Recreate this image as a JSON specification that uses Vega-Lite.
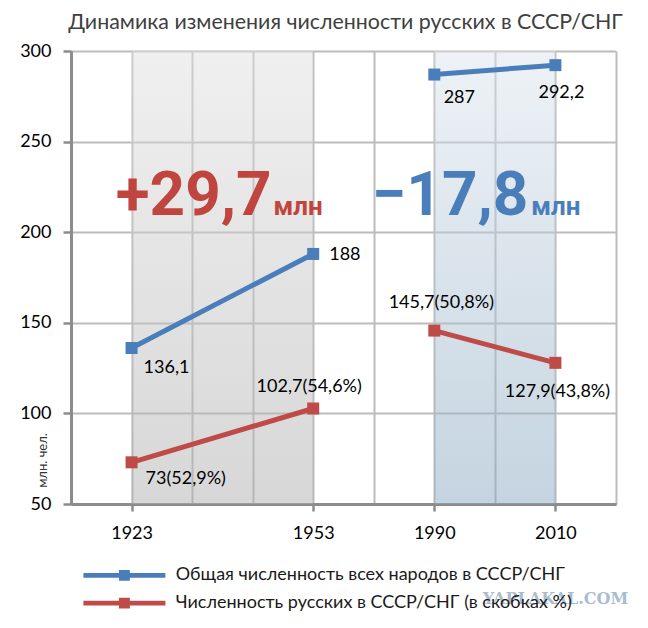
{
  "$schema": "https://vega.github.io/schema/vega-lite/v6.json",
  "width": 545,
  "height": 453,
  "autosize": {"type": "none"},
  "padding": {"left": 71, "top": 51, "right": 32, "bottom": 124},
  "background": "white",
  "title": {
    "text": "Динамика изменения численности русских в СССР/СНГ",
    "anchor": "middle",
    "baseline": "bottom",
    "dx": 2,
    "dy": 24,
    "offset": 12,
    "font": "Lato",
    "fontSize": 21.4,
    "fontWeight": "normal",
    "color": "#404040"
  },
  "datasets": {
    "series": [
      {"year": 1923, "value": 136.1, "label": "136,1", "period": "СССР", "series": "Общая численность всех народов в СССР/СНГ"},
      {"year": 1953, "value": 188, "label": "188", "period": "СССР", "series": "Общая численность всех народов в СССР/СНГ"},
      {"year": 1990, "value": 287, "label": "287", "period": "СНГ", "series": "Общая численность всех народов в СССР/СНГ"},
      {"year": 2010, "value": 292.2, "label": "292,2", "period": "СНГ", "series": "Общая численность всех народов в СССР/СНГ"},
      {"year": 1923, "value": 73, "label": "73(52,9%)", "period": "СССР", "series": "Численность русских в СССР/СНГ (в скобках %)"},
      {"year": 1953, "value": 102.7, "label": "102,7(54,6%)", "period": "СССР", "series": "Численность русских в СССР/СНГ (в скобках %)"},
      {"year": 1990, "value": 145.7, "label": "145,7(50,8%)", "period": "СНГ", "series": "Численность русских в СССР/СНГ (в скобках %)"},
      {"year": 2010, "value": 127.9, "label": "127,9(43,8%)", "period": "СНГ", "series": "Численность русских в СССР/СНГ (в скобках %)"}
    ],
    "periods": [
      {"start": 1923, "end": 1953, "period": "СССР", "change": "+29,7"},
      {"start": 1990, "end": 2010, "period": "СНГ", "change": "−17,8"}
    ]
  },
  "layer": [
    {
      "data": {"name": "periods"},
      "transform": [{"filter": "datum.period == 'СССР'"}],
      "mark": {
        "type": "rect",
        "opacity": 0.5,
        "fill": {
          "gradient": "linear", "x1": 0, "y1": 0, "x2": 0, "y2": 1,
          "stops": [{"offset": 0, "color": "#e0e0e0"}, {"offset": 1, "color": "#afafaf"}]
        }
      },
      "encoding": {
        "x": {"field": "start", "type": "quantitative"},
        "x2": {"field": "end"},
        "y": {"datum": 300, "type": "quantitative"},
        "y2": {"datum": 50}
      }
    },
    {
      "data": {"name": "periods"},
      "transform": [{"filter": "datum.period == 'СНГ'"}],
      "mark": {
        "type": "rect",
        "opacity": 0.5,
        "fill": {
          "gradient": "linear", "x1": 0, "y1": 0, "x2": 0, "y2": 1,
          "stops": [{"offset": 0, "color": "#dde5ed"}, {"offset": 1, "color": "#8aa9c1"}]
        }
      },
      "encoding": {
        "x": {"field": "start", "type": "quantitative"},
        "x2": {"field": "end"},
        "y": {"datum": 300, "type": "quantitative"},
        "y2": {"datum": 50}
      }
    },
    {
      "data": {"name": "series"},
      "mark": {"type": "line", "strokeWidth": 5},
      "encoding": {
        "x": {
          "field": "year", "type": "quantitative",
          "scale": {"type": "linear", "domain": [1913, 1923, 1953, 1990, 2010, 2020], "range": [0, 60.56, 242.2, 363.3, 484.4, 545], "nice": false, "zero": false},
          "axis": {
            "orient": "bottom",
            "title": null,
            "values": [1913, 1923, 1933, 1943, 1953, 1971.5, 1990, 2000, 2010, 2020],
            "format": "d",
            "labelExpr": "indexof([1923, 1953, 1990, 2010], datum.value) >= 0 ? datum.label : ''",
            "grid": true,
            "gridColor": "#bcbcbc",
            "gridWidth": 2,
            "domainColor": "#8c8c8c",
            "domainWidth": 3,
            "tickColor": "#8c8c8c",
            "tickWidth": 2.5,
            "tickSize": 7,
            "tickOpacity": {"condition": {"test": "indexof([1923, 1953, 1990, 2010], datum.value) >= 0", "value": 1}, "value": 0},
            "labelFont": "Lato",
            "labelFontSize": 18,
            "labelColor": "#000000",
            "labelPadding": 13,
            "labelBaseline": "top"
          }
        },
        "y": {
          "field": "value", "type": "quantitative",
          "scale": {"domain": [50, 300], "nice": false, "zero": false},
          "axis": {
            "values": [50, 100, 150, 200, 250, 300],
            "grid": true,
            "gridColor": "#bcbcbc",
            "gridWidth": 2,
            "domainColor": "#8c8c8c",
            "domainWidth": 3,
            "tickColor": "#8c8c8c",
            "tickWidth": 2.5,
            "tickSize": 8,
            "labelFont": "Lato",
            "labelFontSize": 18,
            "labelColor": "#000000",
            "labelPadding": 12,
            "title": "млн. чел.",
            "titleFont": "Lato",
            "titleFontSize": 13,
            "titleFontWeight": "normal",
            "titleColor": "#333333",
            "titleAngle": 270,
            "titleAlign": "center",
            "titleBaseline": "middle",
            "titleX": -29,
            "titleY": 409
          }
        },
        "color": {
          "field": "series", "type": "nominal",
          "scale": {
            "domain": ["Общая численность всех народов в СССР/СНГ", "Численность русских в СССР/СНГ (в скобках %)"],
            "range": ["#4a7ebb", "#be4b48"]
          },
          "legend": {
            "title": null,
            "orient": "none",
            "legendX": 39.4,
            "legendY": 510.4,
            "direction": "vertical",
            "symbolType": "M-3,-0.18H3V0.18H-3Z M-0.4,-0.4H0.4V0.4H-0.4Z",
            "symbolSize": 747,
            "symbolStrokeWidth": 0,
            "symbolOpacity": 1,
            "labelFont": "Lato",
            "labelFontSize": 18,
            "labelColor": "#1a1a1a",
            "labelOffset": 37.3,
            "labelLimit": 500,
            "rowPadding": 4.7
          }
        },
        "detail": {"field": "period"}
      }
    },
    {
      "data": {"name": "series"},
      "mark": {"type": "point", "shape": "square", "filled": true, "size": 144, "opacity": 1},
      "encoding": {
        "x": {"field": "year", "type": "quantitative"},
        "y": {"field": "value", "type": "quantitative"},
        "color": {"field": "series", "type": "nominal"}
      }
    },
    {
      "data": {"name": "series"},
      "transform": [{"filter": "datum.label == '136,1'"}],
      "mark": {"type": "text", "font": "Lato", "fontSize": 18, "color": "#000000", "align": "left", "baseline": "middle", "dx": 12, "dy": 20},
      "encoding": {
        "x": {"field": "year", "type": "quantitative"},
        "y": {"field": "value", "type": "quantitative"},
        "text": {"field": "label"}
      }
    },
    {
      "data": {"name": "series"},
      "transform": [{"filter": "datum.label == '188'"}],
      "mark": {"type": "text", "font": "Lato", "fontSize": 18, "color": "#000000", "align": "left", "baseline": "middle", "dx": 16, "dy": 1},
      "encoding": {
        "x": {"field": "year", "type": "quantitative"},
        "y": {"field": "value", "type": "quantitative"},
        "text": {"field": "label"}
      }
    },
    {
      "data": {"name": "series"},
      "transform": [{"filter": "datum.label == '287'"}],
      "mark": {"type": "text", "font": "Lato", "fontSize": 18, "color": "#000000", "align": "center", "baseline": "middle", "dx": 25, "dy": 23},
      "encoding": {
        "x": {"field": "year", "type": "quantitative"},
        "y": {"field": "value", "type": "quantitative"},
        "text": {"field": "label"}
      }
    },
    {
      "data": {"name": "series"},
      "transform": [{"filter": "datum.label == '292,2'"}],
      "mark": {"type": "text", "font": "Lato", "fontSize": 18, "color": "#000000", "align": "center", "baseline": "middle", "dx": 6, "dy": 28},
      "encoding": {
        "x": {"field": "year", "type": "quantitative"},
        "y": {"field": "value", "type": "quantitative"},
        "text": {"field": "label"}
      }
    },
    {
      "data": {"name": "series"},
      "transform": [{"filter": "datum.label == '73(52,9%)'"}],
      "mark": {"type": "text", "font": "Lato", "fontSize": 18, "color": "#000000", "align": "left", "baseline": "middle", "dx": 14, "dy": 17},
      "encoding": {
        "x": {"field": "year", "type": "quantitative"},
        "y": {"field": "value", "type": "quantitative"},
        "text": {"field": "label"}
      }
    },
    {
      "data": {"name": "series"},
      "transform": [{"filter": "datum.label == '102,7(54,6%)'"}],
      "mark": {"type": "text", "font": "Lato", "fontSize": 18, "color": "#000000", "align": "center", "baseline": "middle", "dx": -4, "dy": -22},
      "encoding": {
        "x": {"field": "year", "type": "quantitative"},
        "y": {"field": "value", "type": "quantitative"},
        "text": {"field": "label"}
      }
    },
    {
      "data": {"name": "series"},
      "transform": [{"filter": "datum.label == '145,7(50,8%)'"}],
      "mark": {"type": "text", "font": "Lato", "fontSize": 18, "color": "#000000", "align": "center", "baseline": "middle", "dx": 7, "dy": -28},
      "encoding": {
        "x": {"field": "year", "type": "quantitative"},
        "y": {"field": "value", "type": "quantitative"},
        "text": {"field": "label"}
      }
    },
    {
      "data": {"name": "series"},
      "transform": [{"filter": "datum.label == '127,9(43,8%)'"}],
      "mark": {"type": "text", "font": "Lato", "fontSize": 18, "color": "#000000", "align": "center", "baseline": "middle", "dx": 2, "dy": 29},
      "encoding": {
        "x": {"field": "year", "type": "quantitative"},
        "y": {"field": "value", "type": "quantitative"},
        "text": {"field": "label"}
      }
    },
    {
      "data": {"name": "periods"},
      "transform": [{"filter": "datum.period == 'СССР'"}],
      "layer": [
        {
          "mark": {"type": "text", "font": "Roboto", "fontSize": 62, "fontWeight": "bold", "color": "#c0453f", "align": "right", "baseline": "alphabetic", "dx": 140, "dy": -17},
          "encoding": {"text": {"field": "change"}}
        },
        {
          "mark": {"type": "text", "font": "Roboto", "fontSize": 26, "fontWeight": "bold", "color": "#c0453f", "align": "left", "baseline": "alphabetic", "dx": 142, "dy": -17, "text": "млн"},
          "encoding": {}
        }
      ],
      "encoding": {
        "x": {"field": "start", "type": "quantitative"},
        "y": {"datum": 200, "type": "quantitative"}
      }
    },
    {
      "data": {"name": "periods"},
      "transform": [{"filter": "datum.period == 'СНГ'"}],
      "layer": [
        {
          "mark": {"type": "text", "font": "Roboto", "fontSize": 62, "fontWeight": "bold", "color": "#4a7ebb", "align": "right", "baseline": "alphabetic", "dx": 94, "dy": -17},
          "encoding": {"text": {"field": "change"}}
        },
        {
          "mark": {"type": "text", "font": "Roboto", "fontSize": 26, "fontWeight": "bold", "color": "#4a7ebb", "align": "left", "baseline": "alphabetic", "dx": 97, "dy": -17, "text": "млн"},
          "encoding": {}
        }
      ],
      "encoding": {
        "x": {"field": "start", "type": "quantitative"},
        "y": {"datum": 200, "type": "quantitative"}
      }
    },
    {
      "data": {"values": [{"site": "YAPLAKAL.COM"}]},
      "mark": {"type": "text", "font": "DejaVu Serif", "fontSize": 16, "fontWeight": "bold", "color": "#9fb6cc", "opacity": 0.9, "align": "center", "baseline": "middle", "dy": 4},
      "encoding": {
        "x": {"datum": 2010, "type": "quantitative"},
        "y": {"datum": 0, "type": "quantitative"},
        "text": {"field": "site"}
      }
    }
  ],
  "config": {
    "view": {"stroke": null},
    "font": "Lato"
  }
}
